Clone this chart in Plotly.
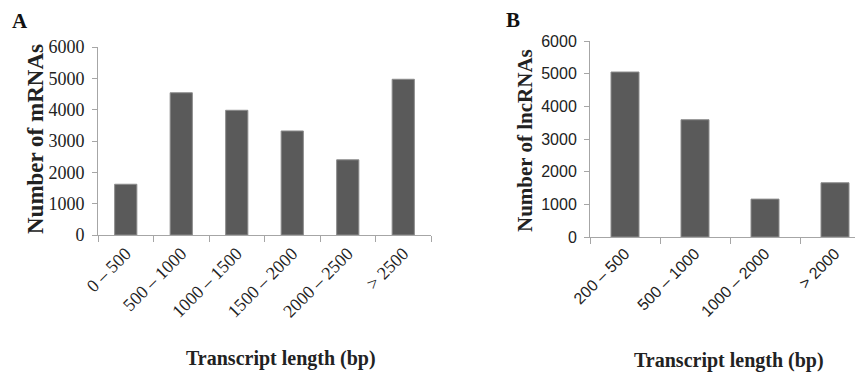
import plotly.graph_objects as go

cats_a = ["0 – 500", "500 – 1000", "1000 – 1500", "1500 – 2000", "2000 – 2500", "> 2500"]
vals_a = [1620, 4540, 3980, 3320, 2400, 4970]
cats_b = ["200 – 500", "500 – 1000", "1000 – 2000", "> 2000"]
vals_b = [5050, 3590, 1160, 1660]
y_ticks = [0, 1000, 2000, 3000, 4000, 5000, 6000]

# page body has an 8px default margin; compensate so positions map to window pixels
OFF = 8
W, H = 863 - OFF, 372 - OFF
def px_x(x): return (x - OFF) / W
def px_y(y): return 1 - (y - OFF) / H

bar_color = "#5a5a5a"
line_color = "#a6a6a6"
serif = "Liberation Serif"
sans = "Liberation Sans"

fig = go.Figure()
fig.add_trace(go.Bar(x=cats_a, y=vals_a, xaxis="x", yaxis="y",
                     marker=dict(color=bar_color, line=dict(color="#8c8c8c", width=1)),
                     showlegend=False, hoverinfo="skip"))
fig.add_trace(go.Bar(x=cats_b, y=vals_b, xaxis="x2", yaxis="y2",
                     marker=dict(color=bar_color, line=dict(color="#8c8c8c", width=1)),
                     showlegend=False, hoverinfo="skip"))

common_x = dict(type="category", showline=True, linecolor=line_color, linewidth=1,
                ticks="outside", ticklen=6, tickcolor=line_color, tickson="boundaries",
                tickangle=-45, showgrid=False, zeroline=False, automargin=False)
common_y = dict(showline=True, linecolor=line_color, linewidth=1, ticks="outside",
                ticklen=5, tickcolor=line_color, tickvals=y_ticks, showgrid=False,
                zeroline=False, range=[0, 6000], automargin=False)

def ann(text, x, y, size, angle=0, family=serif, color="#222"):
    return dict(text=text, x=px_x(x), y=px_y(y), xref="paper", yref="paper",
                xanchor="center", yanchor="middle", showarrow=False, textangle=angle,
                font=dict(family=family, size=size, color=color))

fig.update_layout(
    template="none",
    width=W, height=H, margin=dict(l=0, r=0, t=0, b=0, pad=0),
    paper_bgcolor="white", plot_bgcolor="white", bargap=0.6,
    xaxis=dict(common_x, domain=[px_x(98), px_x(431)], range=[-0.5, 5.5],
               tickfont=dict(family=serif, size=18, color="#222")),
    yaxis=dict(common_y, domain=[px_y(235), px_y(47)], anchor="x",
               tickfont=dict(family=serif, size=18, color="#222"), ticklabelstandoff=4),
    xaxis2=dict(common_x, domain=[px_x(590), 1.0], range=[-0.5, 3.4], anchor="y2",
                tickfont=dict(family=sans, size=16, color="#222")),
    yaxis2=dict(common_y, domain=[px_y(237), px_y(41)], anchor="x2",
                tickfont=dict(family=sans, size=16, color="#222"), ticklabelstandoff=4),
    annotations=[
        ann("<b>A</b>", 20, 21, 21, color="#111"),
        ann("<b>B</b>", 513, 20, 21, color="#111"),
        ann("<b>Number of mRNAs</b>", 35, 139, 23, angle=-90),
        ann("<b>Number of lncRNAs</b>", 525, 141, 21, angle=-90),
        ann("<b>Transcript length (bp)</b>", 281, 358, 20),
        ann("<b>Transcript length (bp)</b>", 729, 360, 20),
    ],
)

fig.write_html("out.html")
